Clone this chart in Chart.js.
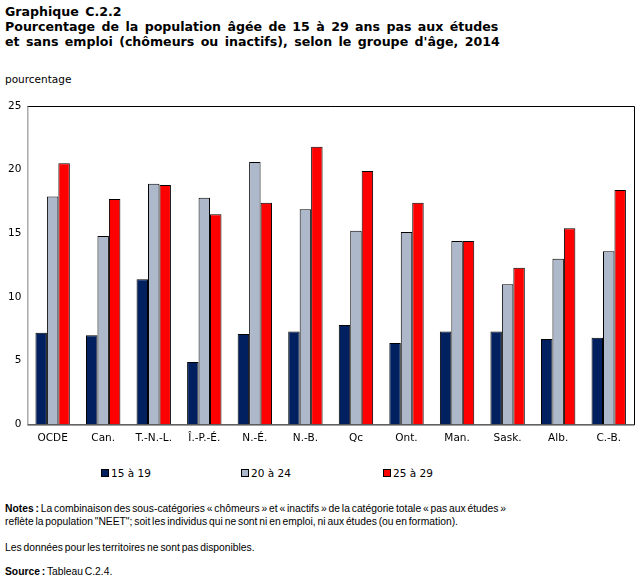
<!DOCTYPE html>
<html><head><meta charset="utf-8">
<script src="https://cdn.jsdelivr.net/npm/chart.js@4/dist/chart.umd.min.js"></script>
<style>
body{margin:0;background:#fff;width:644px;height:583px;position:relative;overflow:hidden;font-family:"DejaVu Sans",Verdana,sans-serif;color:#000}
.t{position:absolute;left:5px;white-space:nowrap}
#title{top:4px;font-weight:bold;font-size:12.6px;line-height:15px;word-spacing:2px}
#unit{top:73px;font-size:10.5px}
#cw{position:absolute;left:0;top:90px;width:644px;height:375px}
.leg{position:absolute;top:467px;font-size:10.5px;white-space:nowrap}
.leg i{display:inline-block;width:6px;height:6px;border:1px solid #000;margin-right:2px;vertical-align:0px}
.n{font-family:"Liberation Sans",Arial,sans-serif;font-size:10.3px;line-height:13px;word-spacing:-1px}
</style></head><body>
<div id="title" class="t">Graphique C.2.2<br>Pourcentage de la population âgée de 15 à 29 ans pas aux études<br>et sans emploi (chômeurs ou inactifs), selon le groupe d'âge, 2014</div>
<div id="unit" class="t">pourcentage</div>
<div id="cw"><canvas id="c" width="644" height="375"></canvas></div>
<div id="legend"></div>
<div class="t n" style="top:502px">
<b>Notes :</b> La combinaison des sous-catégories « chômeurs » et « inactifs » de la catégorie totale « pas aux études »<br>reflète la population "NEET"; soit les individus qui ne sont ni en emploi, ni aux études (ou en formation).</div>
<div class="t n" style="top:541px">Les données pour les territoires ne sont pas disponibles.</div>
<div class="t n" style="top:565px"><b>Source :</b> Tableau C.2.4.</div>
<script>
const categories = ["OCDE","Can.","T.-N.-L.","Î.-P.-É.","N.-É.","N.-B.","Qc","Ont.","Man.","Sask.","Alb.","C.-B."];
const seriesNames = ["15 à 19","20 à 24","25 à 29"];
const age15to19 = [7.2,7.0,11.4,4.9,7.1,7.3,7.8,6.4,7.3,7.3,6.7,6.8];
const age20to24 = [17.9,14.8,18.9,17.8,20.6,16.9,15.2,15.1,14.4,11.0,13.0,13.6];
const age25to29 = [20.5,17.7,18.8,16.5,17.4,21.8,19.9,17.4,14.4,12.3,15.4,18.4];
const yTicks = [0,5,10,15,20,25];
const colors = ["#002060","#adb9ca","#ff0000"];

const legendX = [101,241,383];
const lg = document.getElementById('legend');
seriesNames.forEach((s,i)=>{
  const d=document.createElement('div');d.className='leg';d.style.left=legendX[i]+'px';
  d.innerHTML='<i style="background:'+colors[i]+'"></i>'+s;lg.appendChild(d);
});

const frame = {
  id:'frame',
  afterDatasetsDraw(chart){
    const {ctx,chartArea:a}=chart;
    ctx.save();ctx.lineWidth=1;
    ctx.strokeStyle='#000';
    ctx.beginPath();
    ctx.moveTo(a.left,a.top+0.5);ctx.lineTo(a.right+0.5,a.top+0.5);ctx.lineTo(a.right+0.5,a.bottom+0.5);ctx.lineTo(a.left,a.bottom+0.5);
    ctx.stroke();
    ctx.strokeStyle='#808080';
    ctx.beginPath();ctx.moveTo(a.left+0.5,a.top);ctx.lineTo(a.left+0.5,a.bottom);ctx.stroke();
    ctx.restore();
  }
};

new Chart(document.getElementById('c'),{
  type:'bar',
  data:{labels:categories,datasets:[age15to19,age20to24,age25to29].map((d,i)=>({
    label:seriesNames[i],data:d,backgroundColor:colors[i],borderColor:'#000',borderWidth:1,
    categoryPercentage:0.68,barPercentage:1
  }))},
  options:{
    responsive:false,animation:false,devicePixelRatio:1,
    layout:{padding:{left:2,right:10,top:16,bottom:12}},
    plugins:{legend:{display:false},tooltip:{enabled:false}},
    scales:{
      x:{grid:{display:false,drawTicks:false},border:{display:false},
        ticks:{color:'#000',font:{family:'DejaVu Sans',size:10.5},padding:8,maxRotation:0,autoSkip:false}},
      y:{min:0,max:25,afterBuildTicks(ax){ax.ticks=yTicks.map(v=>({value:v}));},
        grid:{display:false,drawTicks:false},border:{display:false},
        ticks:{color:'#000',font:{family:'DejaVu Sans',size:10.5},padding:6}}
    }
  },
  plugins:[frame]
});
</script>
</body></html>
